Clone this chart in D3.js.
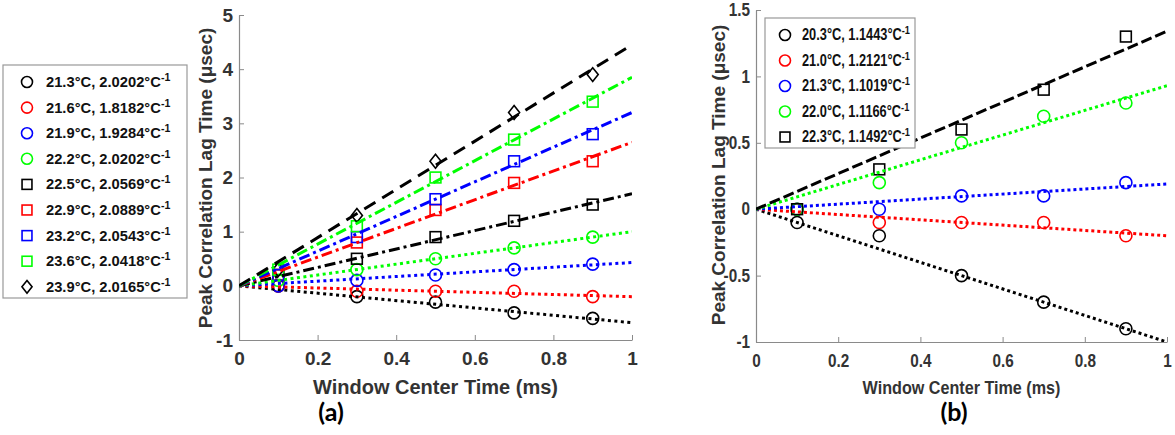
<!DOCTYPE html>
<html><head><meta charset="utf-8">
<script src="https://cdn.jsdelivr.net/npm/d3@7"></script>
<style>
body{margin:0;background:#fff;}
svg{display:block;}
</style></head>
<body>
<svg id="chart" width="1175" height="435"></svg>
<script>
// ---------- data ----------
const xTickValues = [0, 0.2, 0.4, 0.6, 0.8, 1];
const xTickLabels = ["0", "0.2", "0.4", "0.6", "0.8", "1"];
const yTickValuesA = [-1, 0, 1, 2, 3, 4, 5];
const yTickLabelsA = ["-1", "0", "1", "2", "3", "4", "5"];
const yTickValuesB = [-1, -0.5, 0, 0.5, 1, 1.5];
const yTickLabelsB = ["-1", "-0.5", "0", "0.5", "1", "1.5"];
const windowTimes = [0.1, 0.3, 0.5, 0.7, 0.9];

// Panel (a)
const labelsA = [
  ["21.3°C, 2.0202°C", "-1"], ["21.6°C, 1.8182°C", "-1"], ["21.9°C, 1.9284°C", "-1"],
  ["22.2°C, 2.0202°C", "-1"], ["22.5°C, 2.0569°C", "-1"], ["22.9°C, 2.0889°C", "-1"],
  ["23.2°C, 2.0543°C", "-1"], ["23.6°C, 2.0418°C", "-1"], ["23.9°C, 2.0165°C", "-1"]
];
const colorsA = ["#000", "#f00", "#00f", "#0f0", "#000", "#f00", "#00f", "#0f0", "#000"];
const markersA = ["circle", "circle", "circle", "circle", "square", "square", "square", "square", "diamond"];
const lineStylesA = ["dot", "dot", "dot", "dot", "dashdot", "dashdot", "dashdot", "dashdot", "dash"];
const valuesA = [
  [0, -0.2, -0.3, -0.5, -0.6],
  [0, -0.1, -0.1, -0.1, -0.2],
  [0, 0.1, 0.2, 0.3, 0.4],
  [0.1, 0.3, 0.5, 0.7, 0.9],
  [0.2, 0.5, 0.9, 1.2, 1.5],
  [0.2, 0.8, 1.4, 1.9, 2.3],
  [0.2, 0.9, 1.6, 2.3, 2.8],
  [0.3, 1.1, 2.0, 2.7, 3.4],
  [0.3, 1.3, 2.3, 3.2, 3.9]
];
const fitSlopesA = [-0.68, -0.2, 0.43, 1.0, 1.7, 2.65, 3.2, 3.85, 4.45];

// Panel (b)
const labelsB = [
  ["20.3°C, 1.1443°C", "-1"], ["21.0°C, 1.2121°C", "-1"], ["21.3°C, 1.1019°C", "-1"],
  ["22.0°C, 1.1166°C", "-1"], ["22.3°C, 1.1492°C", "-1"]
];
const colorsB = ["#000", "#f00", "#00f", "#0f0", "#000"];
const markersB = ["circle", "circle", "circle", "circle", "square"];
const lineStylesB = ["dot", "dot", "dot", "dot", "dash"];
const valuesB = [
  [-0.1, -0.2, -0.5, -0.7, -0.9],
  [0, -0.1, -0.1, -0.1, -0.2],
  [0, 0, 0.1, 0.1, 0.2],
  [0, 0.2, 0.5, 0.7, 0.8],
  [0, 0.3, 0.6, 0.9, 1.3]
];
const fitSlopesB = [-1.0, -0.2, 0.19, 0.93, 1.34];

// ---------- drawing ----------
const svg = d3.select("#chart");
const dashes = {dot: "3,3.5", dashdot: "11,4,3,4", dash: "13,8"};
const dashesB = {dot: "3,3", dashdot: "10,4,3,4", dash: "11,4"};
const axisColor = "#8a8a8a";
const textColor = "#333";
const FONT = "'Liberation Sans', Arial, sans-serif";

function squeeze(sel, factor) {
  if (factor === 1) return;
  sel.each(function () {
    const w = this.getComputedTextLength();
    d3.select(this).attr("textLength", w * factor).attr("lengthAdjust", "spacingAndGlyphs");
  });
}

function marker(g, type, x, y, color, size) {
  if (type === "circle") {
    g.append("ellipse").attr("cx", x).attr("cy", y).attr("rx", size).attr("ry", size)
      .attr("fill", "none").attr("stroke", color).attr("stroke-width", 1.6);
  } else if (type === "square") {
    const s = size * 0.9;
    g.append("rect").attr("x", x - s).attr("y", y - s).attr("width", 2 * s).attr("height", 2 * s)
      .attr("fill", "none").attr("stroke", color).attr("stroke-width", 1.6);
  } else {
    const s = size * 1.15;
    g.append("path").attr("d", `M${x},${y - s}L${x + s * 0.8},${y}L${x},${y + s}L${x - s * 0.8},${y}Z`)
      .attr("fill", "none").attr("stroke", color).attr("stroke-width", 1.6);
  }
}

function panel(cfg) {
  const x = d3.scaleLinear().domain([0, 1]).range([cfg.x0, cfg.x1]);
  const y = d3.scaleLinear().domain(cfg.yDomain).range([cfg.y1, cfg.y0]);
  const g = svg.append("g");

  // axes
  const xAxis = d3.axisBottom(x).tickValues(xTickValues).tickFormat((d, i) => xTickLabels[i])
    .tickSizeInner(-5).tickSizeOuter(0).tickPadding(12);
  const yAxis = d3.axisLeft(y).tickValues(cfg.yTicks).tickFormat((d, i) => cfg.yLabels[i])
    .tickSizeInner(-5).tickSizeOuter(0).tickPadding(6);
  const gx = g.append("g").attr("transform", `translate(0,${cfg.y1})`).call(xAxis);
  const gy = g.append("g").attr("transform", `translate(${cfg.x0},0)`).call(yAxis);
  [gx, gy].forEach(a => {
    a.select(".domain").attr("stroke", axisColor).attr("stroke-width", 1.2);
    a.selectAll(".tick line").attr("stroke", axisColor).attr("stroke-width", 1);
    a.selectAll("text").attr("fill", textColor).attr("font-family", FONT)
      .attr("font-weight", "bold").attr("font-size", cfg.tickSize);
    squeeze(a.selectAll("text"), cfg.squeeze);
  });
  gx.selectAll("text").attr("dy", "0.71em");

  // clip
  const clipId = "clip" + cfg.id;
  svg.append("clipPath").attr("id", clipId).append("rect")
    .attr("x", cfg.x0).attr("y", cfg.y0).attr("width", cfg.x1 - cfg.x0).attr("height", cfg.y1 - cfg.y0);
  const plot = g.append("g").attr("clip-path", `url(#${clipId})`);

  cfg.values.forEach((vals, i) => {
    const mg = plot.append("g");
    vals.forEach((v, j) => marker(mg, cfg.markers[i], x(windowTimes[j]), y(v), cfg.colors[i], cfg.msize));
  });
  cfg.values.forEach((vals, i) => {
    const line = d3.line().x(d => x(d[0])).y(d => y(d[1]));
    plot.append("path").attr("d", line([[0, 0], [1, cfg.slopes[i]]]))
      .attr("fill", "none").attr("stroke", cfg.colors[i]).attr("stroke-width", 3)
      .attr("stroke-dasharray", cfg.dashes[cfg.styles[i]]);
  });

  // axis titles
  const xt = g.append("text").attr("x", (cfg.x0 + cfg.x1) / 2).attr("y", cfg.xLabelY)
    .attr("text-anchor", "middle").attr("fill", textColor).attr("font-family", FONT)
    .attr("font-weight", "bold").attr("font-size", cfg.xLabelSize).text("Window Center Time (ms)");
  squeeze(xt, cfg.squeeze);
  g.append("text").attr("transform", `translate(${cfg.yLabelX},${cfg.yLabelY}) rotate(-90)`)
    .attr("text-anchor", "middle").attr("fill", textColor).attr("font-family", FONT)
    .attr("font-weight", "bold").attr("font-size", 19)
    .text("Peak Correlation Lag Time (μsec)");

  // panel letter
  g.append("text").attr("x", cfg.letterX).attr("y", cfg.letterY).attr("text-anchor", "middle")
    .attr("font-family", "Lato, 'Open Sans', sans-serif").attr("font-weight", "bold")
    .attr("font-size", 25).attr("fill", "#000").text(cfg.letter);

  // legend
  const L = cfg.legend;
  const lg = svg.append("g");
  lg.append("rect").attr("x", L.x).attr("y", L.y).attr("width", L.w).attr("height", L.h)
    .attr("fill", "#fff").attr("stroke", "#999").attr("stroke-width", 1.2);
  cfg.labels.forEach((lab, i) => {
    const cy = L.firstY + i * L.step;
    marker(lg, cfg.markers[i], L.markerX, cy, cfg.colors[i], L.msize);
    const tg = lg.append("g").attr("transform", `translate(${L.textX},${cy + 5}) scale(${L.sx},1)`);
    const t = tg.append("text").attr("x", 0).attr("y", 0)
      .attr("font-family", FONT).attr("font-weight", "bold")
      .attr("font-size", L.fontSize).attr("fill", "#111");
    t.append("tspan").text(lab[0]);
    t.append("tspan").attr("dy", -6).attr("font-size", L.fontSize * 0.72).text(lab[1]);
  });
}

panel({
  id: "A", x0: 239, x1: 632, y0: 15, y1: 340, yDomain: [-1, 5],
  yTicks: yTickValuesA, yLabels: yTickLabelsA, tickSize: 19, squeeze: 1,
  xLabelSize: 20, xLabelY: 394,
  yLabelX: 212, yLabelY: 178,
  values: valuesA, slopes: fitSlopesA, colors: colorsA, markers: markersA, styles: lineStylesA,
  dashes: dashes, msize: 6,
  letter: "(a)", letterX: 331, letterY: 421,
  labels: labelsA,
  legend: {x: 3, y: 65, w: 184, h: 233, firstY: 82, step: 25.6, markerX: 27, textX: 46, fontSize: 15.5, msize: 5.5, sx: 0.95}
});

panel({
  id: "B", x0: 756, x1: 1167, y0: 10, y1: 342, yDomain: [-1, 1.5],
  yTicks: yTickValuesB, yLabels: yTickLabelsB, tickSize: 18, squeeze: 0.85,
  xLabelSize: 19, xLabelY: 394,
  yLabelX: 725, yLabelY: 175,
  values: valuesB, slopes: fitSlopesB, colors: colorsB, markers: markersB, styles: lineStylesB,
  dashes: dashesB, msize: 6,
  letter: "(b)", letterX: 954, letterY: 421,
  labels: labelsB,
  legend: {x: 765, y: 18, w: 150, h: 130, firstY: 35, step: 25.5, markerX: 785, textX: 802, fontSize: 16, msize: 5.5, sx: 0.8}
});
</script>
</body></html>
